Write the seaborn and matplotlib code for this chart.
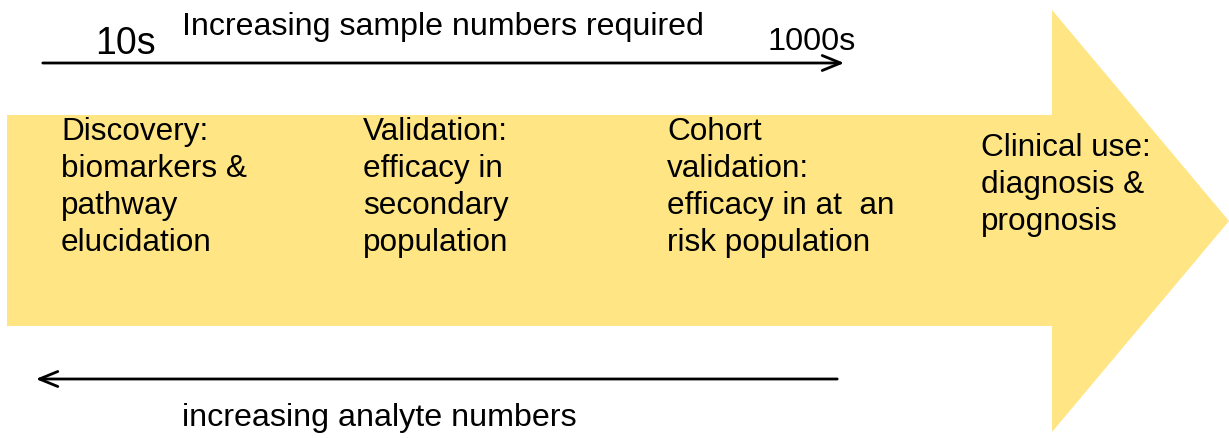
import matplotlib.pyplot as plt
import seaborn as sns
from matplotlib.patches import Polygon

sns.set_theme(style="white")
plt.rcParams["font.family"] = ["Liberation Sans", "DejaVu Sans"]
plt.rcParams["text.color"] = "black"

# stages along the big arrow
stages = [
    "Discovery:\nbiomarkers &\npathway\nelucidation",
    "Validation:\nefficacy in\nsecondary\npopulation",
    "Cohort\nvalidation:\nefficacy in at  an\nrisk population",
    "Clinical use:\ndiagnosis &\nprognosis",
]
stage_x = [61, 363, 667, 981]
stage_top = [117, 117, 117, 133]

top_label = "Increasing sample numbers required"
top_start, top_end = "10s", "1000s"
bottom_label = "increasing analyte numbers"

yellow = "#FFE583"

fig = plt.figure(figsize=(12.29, 4.39), dpi=100)
ax = fig.add_axes([0, 0, 1, 1])
ax.set_xlim(0, 1229)
ax.set_ylim(439, 0)
ax.axis("off")

# big block arrow
body = [(7, 116), (1052, 116), (1052, 11), (1229, 222),
        (1052, 433), (1052, 327), (7, 327)]
ax.add_patch(Polygon(body, closed=True, facecolor=yellow, edgecolor="none"))

for txt, x, y in zip(stages, stage_x, stage_top):
    ax.text(x, y, txt, fontsize=22.7, va="top", ha="left", linespacing=1.3, color="black")

head = "->,head_length=1.1,head_width=0.45"

# sample number arrow (top)
ax.annotate("", xy=(847, 64), xytext=(40, 64),
            arrowprops=dict(arrowstyle=head, lw=2, color="black"))
ax.text(443, 27, top_label, fontsize=23.1, ha="center", va="center", color="black")
ax.text(95, 44, top_start, fontsize=27, ha="left", va="center", color="black")
ax.text(768, 42, top_end, fontsize=23.3, ha="left", va="center", color="black")

# analyte arrow (bottom)
ax.annotate("", xy=(33, 380), xytext=(840, 380),
            arrowprops=dict(arrowstyle=head, lw=2, color="black"))
ax.text(379, 418, bottom_label, fontsize=23.2, ha="center", va="center", color="black")

fig.savefig("out.png", dpi=100)
